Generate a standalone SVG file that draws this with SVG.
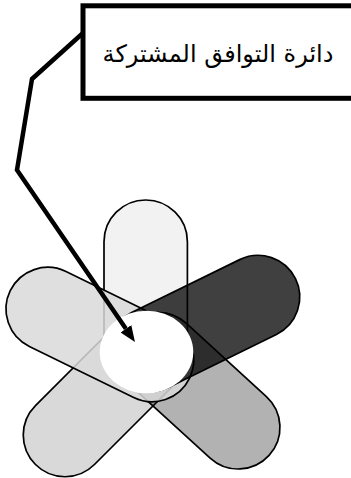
<svg xmlns="http://www.w3.org/2000/svg" width="351" height="478" viewBox="0 0 351 478">
  <style>
    .pill { stroke: #000; stroke-width: 1.7; }
    .conn { fill: none; stroke: #000; stroke-width: 4.5; stroke-linejoin: miter; }
    .label { font-family: 'DejaVu Sans', 'Noto Sans', sans-serif; font-size: 24px; fill: #000; }
  </style>
  <defs>
    <marker id="arrow" markerUnits="userSpaceOnUse" viewBox="0 0 16 13" markerWidth="16" markerHeight="13" refX="0" refY="6.5" orient="auto">
      <path d="M0,0 L16,6.5 L0,13 z" fill="#000"/>
    </marker>
    <filter id="soft" x="-20%" y="-20%" width="140%" height="140%">
      <feGaussianBlur stdDeviation="0.4"/>
    </filter>
  </defs>
  <rect width="351" height="478" fill="#fff"/>

  <g id="petal-top">
    <rect class="pill" x="-41.7" y="-41.7" width="193.7" height="83.4" rx="41.7" fill="#f2f2f2" transform="translate(145.7,352) rotate(-90)"/>
  </g>
  <g id="petal-lower-left">
    <rect class="pill" x="-41.7" y="-41.7" width="198" height="83.4" rx="41.7" fill="#d9d9d9" transform="translate(146,354) rotate(135)"/>
  </g>
  <g id="petal-lower-right">
    <rect class="pill" x="-41.7" y="-41.7" width="192.1" height="83.4" rx="41.7" fill="#000" fill-opacity="0.3" transform="translate(158,354) rotate(42.4)"/>
  </g>
  <g id="petal-upper-left">
    <rect class="pill" x="-41.7" y="-41.7" width="199.5" height="83.4" rx="41.7" fill="#d9d9d9" fill-opacity="0.85" transform="translate(152,360) rotate(206.05)"/>
  </g>
  <g id="petal-upper-right">
    <rect class="pill" x="-41.7" y="-41.7" width="203.7" height="83.4" rx="41.7" fill="#000" fill-opacity="0.75" transform="translate(150,350) rotate(-26.1)"/>
  </g>
  <g id="center-circle">
    <ellipse cx="146.5" cy="352" rx="46.8" ry="41.3" fill="#fff" filter="url(#soft)"/>
  </g>

  <g id="label-box">
    <rect x="83" y="5.8" width="300" height="92.5" fill="#fff" stroke="#000" stroke-width="5"/>
    <text class="label" x="218" y="62" text-anchor="middle" direction="rtl">دائرة التوافق المشتركة</text>
  </g>

  <g id="connectors">
    <polyline class="conn" points="83,33 32,79 17,170 125.9,328.8" marker-end="url(#arrow)"/>
  </g>
</svg>
